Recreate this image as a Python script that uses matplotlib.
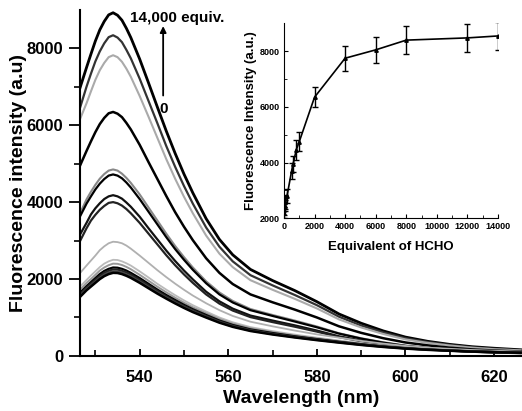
import matplotlib
matplotlib.use("Agg")
import matplotlib.pyplot as plt

plt.rcParams['font.family'] = ['Liberation Sans', 'DejaVu Sans']
plt.rcParams['font.weight'] = 'bold'

# emission spectra, wavelength (nm)
wavelength = [526.5, 528, 529, 530, 531, 532, 533, 534, 535, 536, 537, 538, 540, 542,
              544, 546, 548, 550, 552, 555, 558, 561, 565, 570, 575, 580, 585, 590,
              595, 600, 605, 610, 615, 620, 626]

# intensities, highest curve first
spec_a = [6960, 7500, 7850, 8190, 8480, 8700, 8870, 8925, 8860, 8730, 8520, 8280, 7720, 7100,
          6470, 5850, 5270, 4730, 4240, 3570, 3030, 2630, 2250, 1960, 1700, 1410, 1090, 850,
          650, 490, 380, 300, 240, 200, 160]
spec_b = [6440, 7000, 7340, 7660, 7920, 8130, 8290, 8340, 8280, 8160, 7960, 7740, 7210, 6630,
          6050, 5460, 4920, 4420, 3960, 3340, 2840, 2460, 2100, 1835, 1585, 1320, 1020, 790,
          610, 460, 360, 285, 225, 185, 150]
spec_c = [6150, 6570, 6880, 7180, 7430, 7620, 7770, 7820, 7770, 7650, 7470, 7260, 6760, 6220,
          5670, 5120, 4610, 4140, 3710, 3130, 2660, 2310, 1970, 1720, 1485, 1235, 950, 740,
          570, 430, 340, 270, 215, 175, 145]
spec_d = [4940, 5330, 5580, 5820, 6030, 6190, 6310, 6345, 6300, 6210, 6060, 5890, 5490, 5040,
          4600, 4160, 3740, 3360, 3010, 2540, 2160, 1870, 1600, 1395, 1205, 1000, 770, 600,
          460, 350, 275, 215, 170, 140, 115]
spec_e = [3700, 4070, 4270, 4450, 4610, 4730, 4820, 4850, 4820, 4740, 4630, 4500, 4200, 3860,
          3520, 3180, 2860, 2570, 2300, 1940, 1650, 1430, 1220, 1065, 920, 765, 590, 460,
          355, 270, 210, 165, 130, 107, 87]
spec_f = [3620, 3960, 4150, 4330, 4480, 4600, 4690, 4720, 4690, 4620, 4510, 4380, 4080, 3750,
          3420, 3090, 2780, 2500, 2240, 1890, 1600, 1390, 1190, 1040, 895, 745, 580, 450,
          345, 260, 205, 160, 127, 104, 85]
spec_g = [3150, 3460, 3680, 3840, 3970, 4080, 4150, 4180, 4150, 4090, 3990, 3880, 3620, 3320,
          3030, 2740, 2470, 2220, 1990, 1670, 1420, 1230, 1050, 920, 795, 660, 510, 400,
          305, 230, 180, 142, 113, 92, 75]
spec_h = [2980, 3320, 3520, 3670, 3800, 3900, 3980, 4000, 3970, 3910, 3820, 3710, 3460, 3180,
          2900, 2620, 2360, 2120, 1900, 1600, 1360, 1180, 1010, 880, 760, 632, 490, 380,
          290, 220, 172, 136, 108, 88, 72]
spec_i = [2150, 2350, 2480, 2610, 2750, 2850, 2930, 2970, 2960, 2930, 2870, 2790, 2610, 2420,
          2230, 2050, 1880, 1720, 1570, 1370, 1190, 1040, 890, 770, 660, 560, 475, 390,
          320, 260, 215, 185, 155, 135, 113]
spec_j = [1800, 1975, 2090, 2200, 2310, 2400, 2460, 2500, 2495, 2460, 2410, 2350, 2200, 2040,
          1875, 1725, 1580, 1445, 1320, 1155, 1000, 875, 750, 645, 555, 475, 400, 330,
          270, 220, 183, 155, 130, 113, 95]
spec_k = [1720, 1900, 2000, 2110, 2220, 2300, 2360, 2400, 2395, 2365, 2315, 2255, 2110, 1955,
          1800, 1655, 1515, 1385, 1265, 1110, 960, 840, 720, 620, 533, 456, 384, 317,
          260, 211, 175, 149, 125, 108, 91]
spec_l = [1640, 1815, 1920, 2025, 2130, 2210, 2265, 2300, 2295, 2265, 2220, 2160, 2025, 1875,
          1725, 1585, 1455, 1330, 1215, 1065, 920, 805, 690, 595, 510, 437, 368, 304,
          248, 202, 168, 143, 120, 104, 87]
spec_m = [1600, 1778, 1880, 1980, 2080, 2160, 2215, 2250, 2245, 2215, 2170, 2115, 1980, 1835,
          1690, 1550, 1420, 1300, 1190, 1040, 900, 788, 675, 580, 500, 428, 360, 297,
          243, 198, 164, 140, 117, 101, 86]
spec_n = [1560, 1738, 1837, 1936, 2035, 2112, 2167, 2200, 2196, 2167, 2123, 2068, 1936, 1793,
          1650, 1518, 1390, 1272, 1162, 1016, 880, 770, 660, 568, 488, 418, 352, 290,
          238, 194, 161, 136, 114, 99, 84]
spec_o = [1530, 1706, 1804, 1901, 1998, 2074, 2128, 2160, 2156, 2128, 2084, 2030, 1901, 1760,
          1620, 1490, 1365, 1248, 1140, 998, 864, 756, 648, 557, 480, 410, 346, 285,
          233, 190, 158, 134, 112, 97, 82]

spectra = [spec_a, spec_b, spec_c, spec_d, spec_e, spec_f, spec_g, spec_h,
           spec_i, spec_j, spec_k, spec_l, spec_m, spec_n, spec_o]
colors = ['black', '#333333', '#aaaaaa', 'black', '#888888', 'black', '#111111', '#222222',
          '#b0b0b0', '#bbbbbb', '#999999', 'black', '#222222', '#444444', 'black']
widths = [2.0, 1.6, 1.5, 1.8, 1.5, 1.6, 1.6, 1.6, 1.3, 1.3, 1.4, 1.6, 1.6, 1.6, 1.8]

# inset: peak intensity vs equivalents of HCHO
equiv = [0, 20, 50, 100, 200, 500, 600, 800, 1000, 2000, 4000, 6000, 8000, 12000, 14000]
intensity = [2200, 2300, 2450, 2600, 2800, 3700, 3950, 4450, 4750, 6350, 7750, 8050,
             8400, 8480, 8550]
err = [200, 200, 200, 250, 250, 300, 300, 350, 350, 350, 450, 480, 500, 500, 500]

fig = plt.figure(figsize=(5.22, 4.11), dpi=100)
ax = fig.add_axes([0.153, 0.134, 0.847, 0.842])

for s, c, w in zip(spectra, colors, widths):
    ax.plot(wavelength, s, color=c, lw=w)

ax.set_xlim(526.5, 626.3)
ax.set_ylim(0, 9000)
ax.set_xticks([540, 560, 580, 600, 620])
ax.set_xticks([530, 550, 570, 590, 610], minor=True)
ax.set_yticks([0, 2000, 4000, 6000, 8000])
ax.set_yticks([1000, 3000, 5000, 7000], minor=True)
ax.spines['top'].set_visible(False)
ax.spines['right'].set_visible(False)
ax.spines['left'].set_linewidth(1.5)
ax.spines['bottom'].set_linewidth(1.5)
ax.tick_params(axis='x', direction='in', length=5, width=1.3, labelsize=12, pad=10)
ax.tick_params(axis='x', which='minor', direction='in', length=4, width=1.2)
ax.tick_params(axis='y', direction='out', length=8, width=1.3, labelsize=12, pad=4)
ax.tick_params(axis='y', which='minor', direction='out', length=4, width=1.2)
ax.set_xlabel("Wavelength (nm)", fontsize=14, fontweight='bold', labelpad=4)
ax.set_ylabel("Fluorescence intensity (a.u)", fontsize=14, fontweight='bold', labelpad=0)

ax.annotate("", xy=(545.3, 8650), xytext=(545.3, 6700),
            arrowprops=dict(arrowstyle='-|>', color='black', lw=1.3, mutation_scale=9))
ax.text(548.4, 8800, "14,000 equiv.", fontsize=11, fontweight='bold', ha='center', va='center')
ax.text(545.3, 6420, "0", fontsize=11, fontweight='bold', ha='center', va='center')

ins = fig.add_axes([0.544, 0.469, 0.41, 0.474])
ins.errorbar(equiv, intensity, yerr=err, color='black', lw=1.2, capsize=2.5,
             elinewidth=1.0, capthick=1.0, marker='^', markersize=2.5)
ins.set_xlim(0, 14000)
ins.set_ylim(2000, 9000)
ins.set_xticks(range(0, 14001, 2000))
ins.set_xticks(range(1000, 14000, 2000), minor=True)
ins.set_yticks([2000, 4000, 6000, 8000])
ins.set_yticks([3000, 5000, 7000], minor=True)
ins.spines['top'].set_visible(False)
ins.spines['right'].set_visible(False)
ins.tick_params(axis='both', which='major', direction='in', length=3, labelsize=6.5, pad=3)
ins.tick_params(axis='both', which='minor', direction='in', length=2)
ins.set_xlabel("Equivalent of HCHO", fontsize=9.5, fontweight='bold', labelpad=7)
ins.set_ylabel("Fluorescence Intensity (a.u.)", fontsize=9.5, fontweight='bold', labelpad=2)

fig.savefig("out.png", dpi=100)
